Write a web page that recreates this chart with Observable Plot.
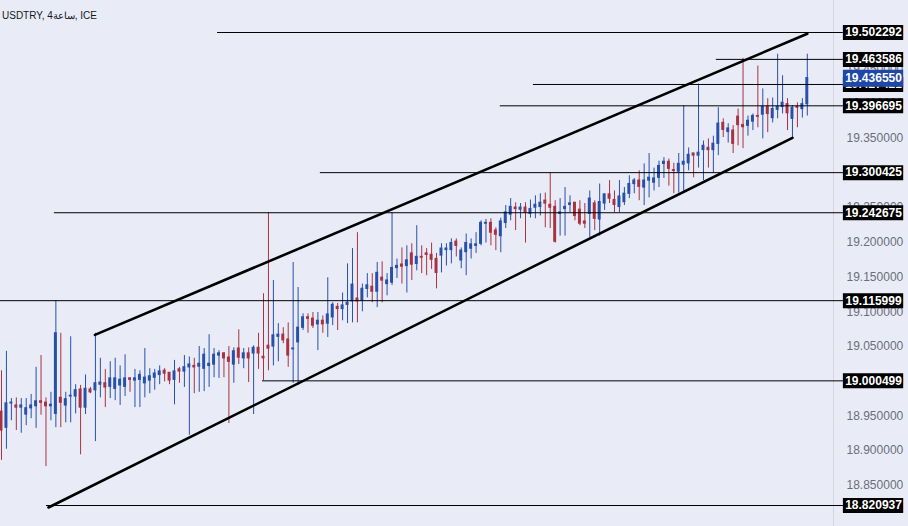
<!DOCTYPE html>
<html>
<head>
<meta charset="utf-8">
<script src="https://cdn.jsdelivr.net/npm/d3@7"></script>
<script src="https://cdn.jsdelivr.net/npm/@observablehq/plot@0.6"></script>
<style>
  html, body { margin: 0; padding: 0; background: #e9ecf7; }
  #wrap { position: relative; width: 908px; height: 526px; overflow: hidden; }
  #title { position: absolute; left: 2px; top: 10px; font: 10px/12px "Liberation Sans", Arial, sans-serif; color: #131722; white-space: nowrap; }
</style>
</head>
<body>
<div id="wrap">
  <div id="chart"></div>
  <div id="title">USDTRY, <bdi>ساعة4</bdi>, ICE</div>
</div>
<script>
// ---- candle data (USDTRY 4h) ----
const open = [18.956,18.933,18.968,18.965,18.962,18.952,18.961,18.964,18.971,18.969,
18.964,18.953,18.976,18.965,18.978,18.978,18.988,18.962,18.988,18.987,
18.995,18.997,18.992,18.989,18.994,18.992,19.004,19.001,19.002,18.997,
19.001,19.005,19.009,19.015,19.012,19.002,19.017,19.014,19.020,19.022,
19.021,19.018,19.022,19.024,19.037,19.040,19.034,19.024,19.047,19.033,
19.040,19.040,19.048,19.035,19.051,19.050,19.064,19.067,19.060,19.046,
19.056,19.077,19.092,19.090,19.082,19.087,19.083,19.092,19.107,19.104,
19.110,19.115,19.119,19.116,19.133,19.136,19.129,19.149,19.140,19.142,
19.163,19.168,19.166,19.184,19.169,19.179,19.184,19.182,19.176,19.181,
19.189,19.189,19.201,19.174,19.186,19.191,19.195,19.198,19.227,19.228,
19.217,19.209,19.228,19.240,19.250,19.247,19.250,19.241,19.250,19.251,
19.260,19.254,19.251,19.241,19.248,19.254,19.257,19.247,19.230,19.241,
19.256,19.233,19.256,19.269,19.261,19.251,19.258,19.270,19.284,19.289,
19.279,19.289,19.286,19.293,19.313,19.316,19.304,19.302,19.312,19.314,
19.328,19.325,19.333,19.336,19.333,19.342,19.372,19.359,19.361,19.381,
19.369,19.368,19.374,19.382,19.384,19.395,19.379,19.391,19.395,19.399,
19.378,19.395,19.392,19.399];
const high = [19.015,19.043,18.975,18.976,18.975,18.975,18.981,19.020,19.037,18.976,
18.984,19.116,19.069,18.984,19.064,18.995,18.994,19.009,18.991,19.069,
19.033,19.017,19.028,19.033,19.022,19.038,19.005,19.017,19.015,19.047,
19.018,19.017,19.022,19.018,19.012,19.030,19.020,19.037,19.035,19.033,
19.050,19.047,19.067,19.047,19.044,19.041,19.050,19.048,19.074,19.047,
19.048,19.051,19.069,19.126,19.243,19.145,19.083,19.077,19.084,19.171,
19.135,19.097,19.097,19.099,19.099,19.094,19.149,19.113,19.112,19.127,
19.169,19.191,19.214,19.140,19.155,19.155,19.171,19.172,19.155,19.243,
19.176,19.192,19.195,19.198,19.224,19.195,19.191,19.199,19.184,19.198,
19.198,19.205,19.205,19.192,19.212,19.205,19.214,19.231,19.233,19.234,
19.221,19.235,19.253,19.263,19.257,19.256,19.257,19.261,19.267,19.270,
19.271,19.300,19.260,19.263,19.279,19.267,19.257,19.260,19.256,19.274,
19.260,19.284,19.270,19.289,19.274,19.289,19.279,19.296,19.292,19.303,
19.313,19.328,19.307,19.317,19.322,19.320,19.314,19.328,19.397,19.336,
19.328,19.428,19.346,19.349,19.353,19.394,19.378,19.371,19.368,19.392,
19.465,19.382,19.385,19.454,19.421,19.407,19.408,19.471,19.440,19.407,
19.397,19.401,19.407,19.471];
const low = [18.886,18.902,18.943,18.929,18.925,18.936,18.946,18.932,18.951,18.877,
18.943,18.933,18.933,18.940,18.940,18.953,18.894,18.952,18.982,18.913,
18.976,18.962,18.975,18.972,18.965,18.978,18.984,18.962,18.962,18.976,
18.982,18.987,18.995,18.999,18.995,18.966,18.997,18.991,18.922,18.982,
18.984,18.985,18.991,19.005,19.004,19.005,18.939,18.997,19.024,19.018,
18.998,18.952,19.017,19.001,19.015,19.022,19.028,19.054,19.020,18.997,
18.994,19.073,19.069,19.076,19.044,19.069,19.063,19.080,19.073,19.087,
19.083,19.084,19.084,19.100,19.120,19.113,19.106,19.113,19.123,19.138,
19.148,19.140,19.127,19.145,19.159,19.155,19.152,19.161,19.133,19.156,
19.166,19.169,19.179,19.162,19.152,19.176,19.184,19.195,19.199,19.195,
19.188,19.185,19.220,19.231,19.217,19.234,19.199,19.235,19.234,19.238,
19.221,19.220,19.199,19.209,19.209,19.243,19.231,19.224,19.220,19.207,
19.217,19.209,19.246,19.256,19.243,19.243,19.253,19.263,19.270,19.260,
19.253,19.264,19.274,19.279,19.292,19.281,19.270,19.271,19.271,19.303,
19.293,19.307,19.289,19.307,19.300,19.325,19.351,19.343,19.328,19.339,
19.335,19.353,19.361,19.365,19.349,19.358,19.372,19.378,19.385,19.361,
19.351,19.365,19.379,19.382];
const close = [18.929,18.968,18.969,18.962,18.965,18.961,18.965,18.971,18.969,18.964,
18.966,19.069,18.969,18.974,18.979,18.987,18.962,18.989,18.984,18.997,
18.998,18.991,19.004,19.004,19.002,19.004,19.002,19.004,19.009,19.005,
19.007,19.011,19.014,19.011,19.001,19.014,19.014,19.020,19.024,19.020,
19.025,19.038,19.025,19.038,19.040,19.033,19.028,19.043,19.034,19.040,
19.033,19.048,19.040,19.033,19.047,19.066,19.067,19.059,19.037,19.047,
19.077,19.092,19.090,19.080,19.087,19.082,19.096,19.110,19.104,19.109,
19.113,19.139,19.115,19.133,19.138,19.129,19.156,19.145,19.145,19.163,
19.166,19.165,19.174,19.168,19.179,19.178,19.182,19.175,19.156,19.191,
19.191,19.199,19.195,19.188,19.199,19.197,19.197,19.228,19.228,19.214,
19.211,19.230,19.243,19.251,19.248,19.250,19.243,19.248,19.254,19.257,
19.256,19.250,19.201,19.243,19.251,19.256,19.238,19.227,19.227,19.263,
19.234,19.258,19.269,19.263,19.254,19.266,19.270,19.284,19.289,19.280,
19.289,19.293,19.292,19.310,19.316,19.306,19.303,19.313,19.316,19.326,
19.325,19.329,19.339,19.333,19.342,19.371,19.362,19.364,19.342,19.369,
19.366,19.375,19.382,19.381,19.395,19.385,19.392,19.395,19.401,19.386,
19.394,19.394,19.399,19.43655];

// ---- horizontal levels (price, candle index where the line starts) ----
const levelValues = [19.502292, 19.463586, 19.427421, 19.396695, 19.300425, 19.242675, 19.115999, 19.000499, 18.820937];
const levelLabels = ["19.502292", "19.463586", "19.427421", "19.396695", "19.300425", "19.242675", "19.115999", "19.000499", "18.820937"];
const levelStarts = [43.7, 144.6, 107.6, 100.9, 64.5, 10.7, -0.2, 52.8, 9.1];

// ---- current price ----
const lastPrice = [19.43655];
const lastLabel = ["19.436550"];

// ---- channel trend lines (candle index, price) ----
const upperIdx = [18.9, 163.0];
const upperVal = [19.0668, 19.5004];
const lowerIdx = [9.5, 160.0];
const lowerVal = [18.8181, 19.3506];

// ---- y axis tick values ----
const yTicks = [18.85, 18.90, 18.95, 19.00, 19.05, 19.10, 19.15, 19.20, 19.25, 19.30, 19.35, 19.40, 19.45, 19.50];

// ---- build ----
const candles = open.map((o, i) => ({i, open: o, high: high[i], low: low[i], close: close[i]}));
const levels = levelValues.map((v, k) => ({v, label: levelLabels[k], start: levelStarts[k]}));
const current = lastPrice.map((v, k) => ({v, label: lastLabel[k]}));
const upper = upperIdx.map((i, k) => ({i, v: upperVal[k]}));
const lower = lowerIdx.map((i, k) => ({i, v: lowerVal[k]}));

const BLUE = "#2750ab";
const RED = "#a8323f";
const col = d => d.close >= d.open ? BLUE : RED;

const X_END = 168.3;     // right edge of the plotting area
const LAB_X1 = 170.3;    // label box start
const LAB_X2 = 182.5;    // label box end
const LAB_XC = 176.4;    // label text center

const chart = Plot.plot({
  width: 908,
  height: 526,
  marginTop: 0,
  marginBottom: 0,
  marginLeft: 0,
  marginRight: 75,
  style: {background: "#e9ecf7", fontFamily: "'Liberation Sans', Arial, sans-serif", fontSize: "12px", overflow: "visible"},
  x: {domain: [-0.2, X_END], axis: null},
  y: {domain: [18.7907, 19.5484]},
  marks: [
    Plot.ruleX([X_END], {stroke: "#d3d6df", strokeWidth: 1}),
    Plot.axisY(yTicks, {anchor: "right", tickSize: 0, tickPadding: 13, tickFormat: d => d.toFixed(6), fill: "#6b6e79", fontSize: 12}),
    Plot.ruleX(candles, {x: "i", y1: "low", y2: "high", stroke: col, strokeWidth: 1}),
    Plot.rect(candles, {x1: d => d.i - 0.3, x2: d => d.i + 0.3, y1: "open", y2: "close", fill: col, insetTop: -0.6, insetBottom: -0.6}),
    Plot.ruleY(levels, {y: "v", x1: "start", x2: LAB_X1, stroke: "#000", strokeWidth: 1}),
    Plot.line(upper, {x: "i", y: "v", stroke: "#000", strokeWidth: 2.6}),
    Plot.line(lower, {x: "i", y: "v", stroke: "#000", strokeWidth: 2.6}),
    Plot.ruleY(levels, {y: "v", x1: LAB_X1, x2: LAB_X2, stroke: "#000", strokeWidth: 15}),
    Plot.text(levels, {x: LAB_XC, y: "v", text: "label", fill: "#fff", fontWeight: "bold", fontSize: 12}),
    Plot.ruleY(current, {y: "v", x1: LAB_X1, x2: LAB_X2, stroke: "#1f47a6", strokeWidth: 17}),
    Plot.text(current, {x: LAB_XC, y: "v", text: "label", fill: "#fff", fontWeight: "bold", fontSize: 12})
  ]
});
document.getElementById("chart").appendChild(chart);
</script>
</body>
</html>
